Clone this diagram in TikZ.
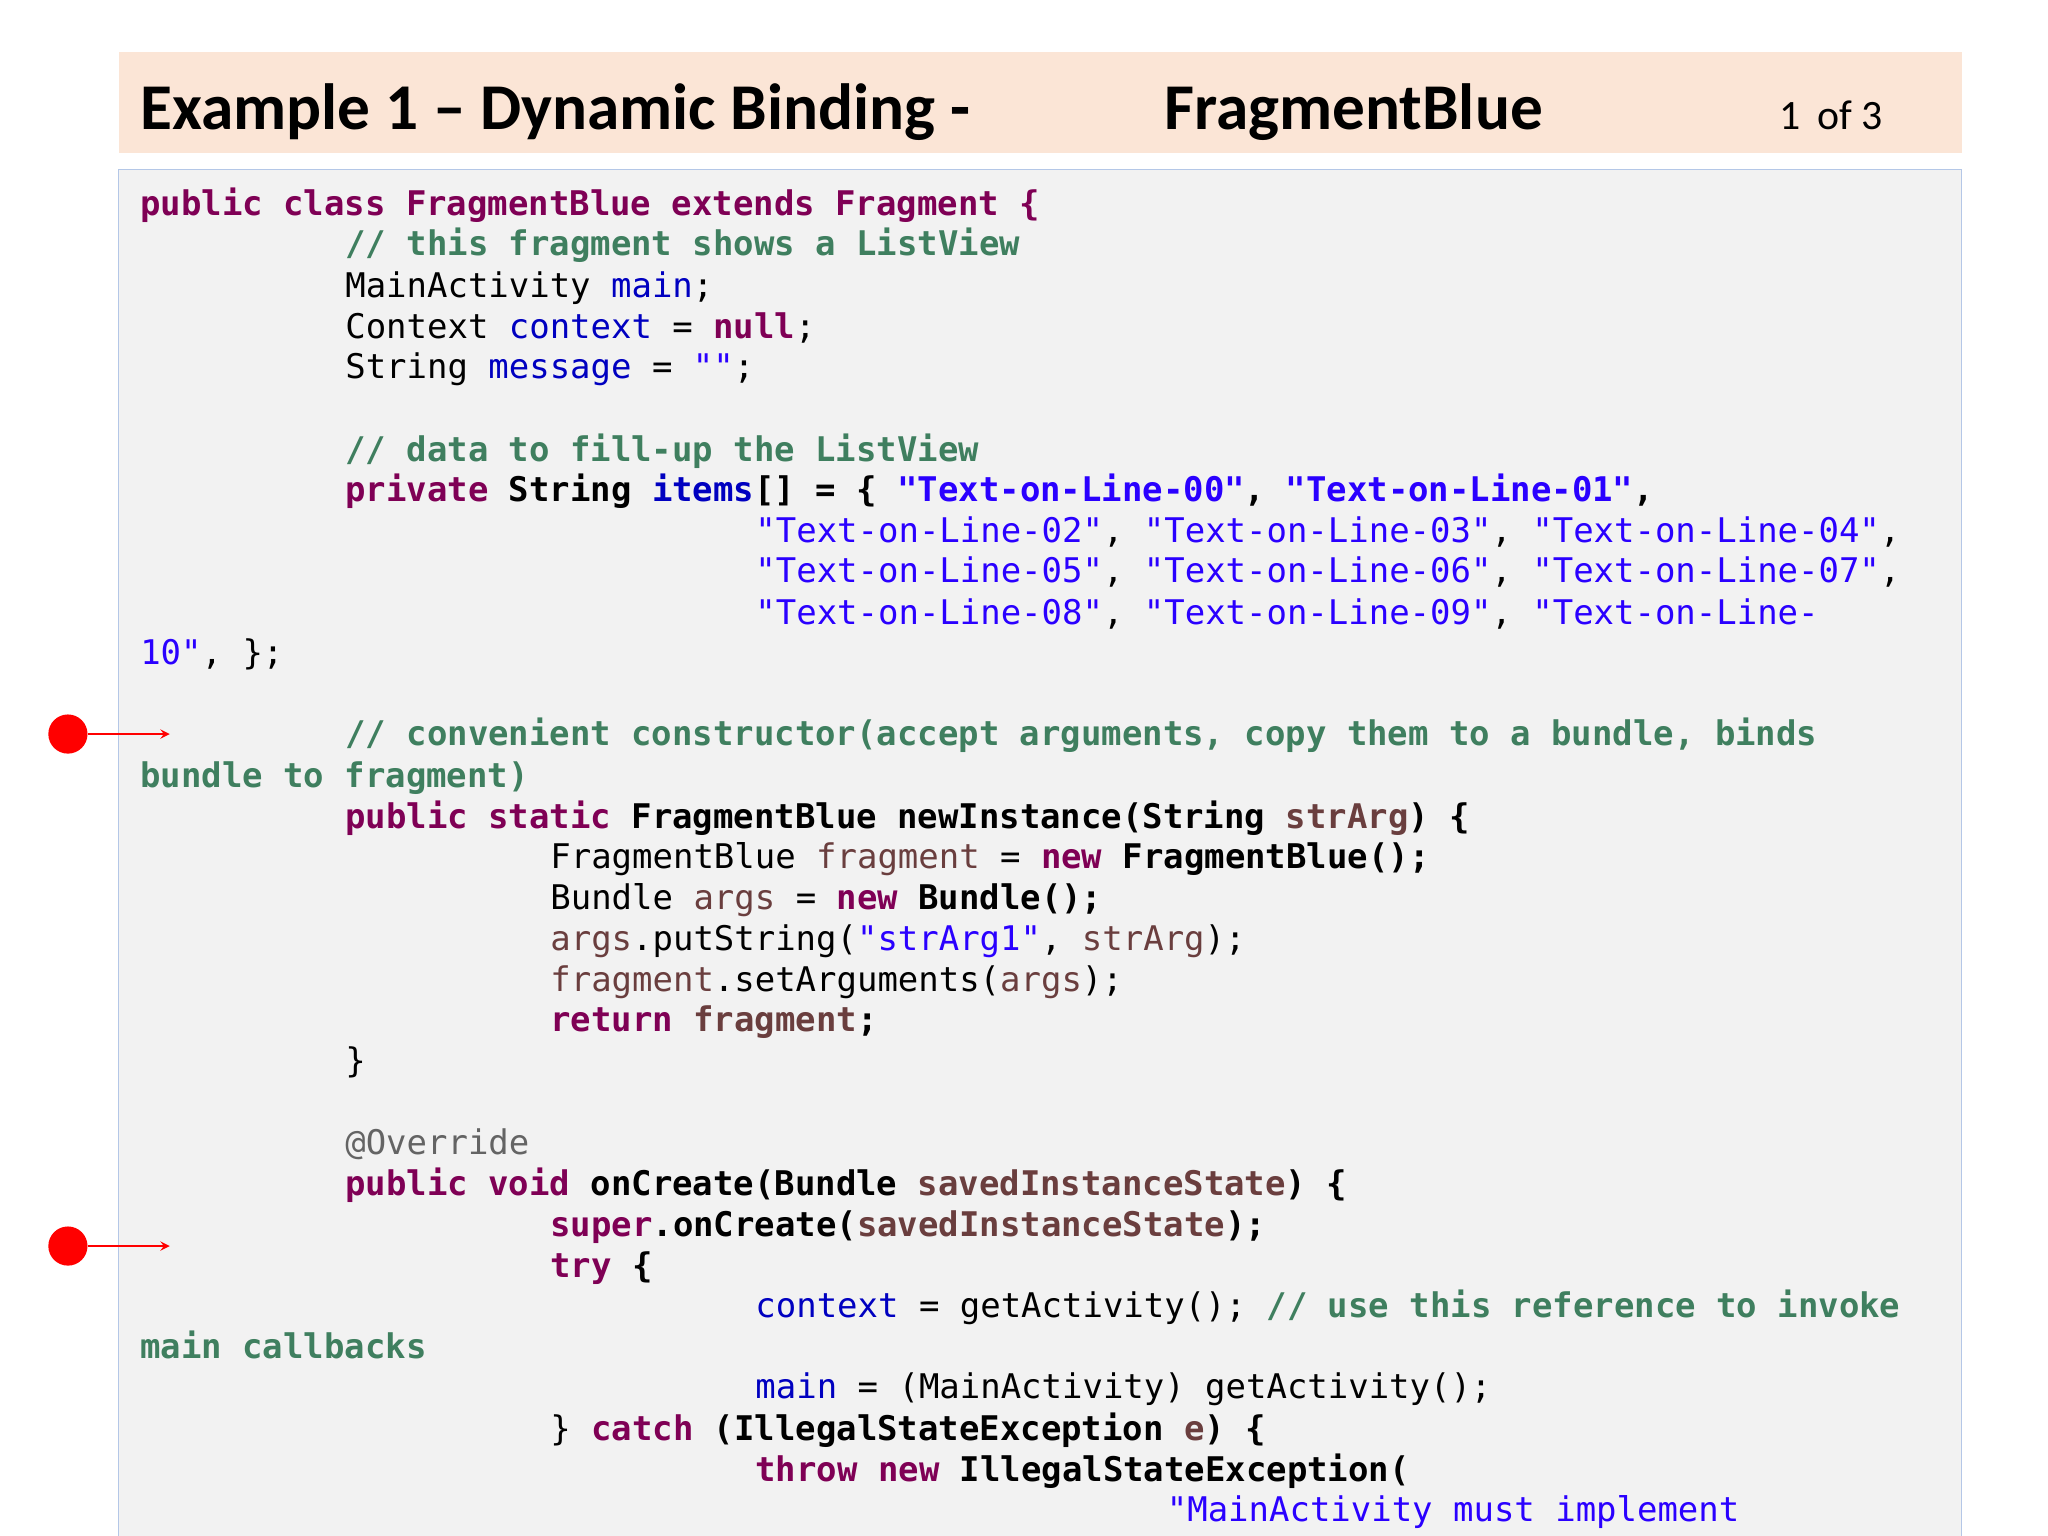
\documentclass[tikz,border=0pt]{standalone}
\usepackage{fontspec}
\setmonofont{DejaVu Sans Mono}
\newfontfamily\titlefont{Carlito}
\definecolor{kwc}{HTML}{7F0055}
\definecolor{cmc}{HTML}{3F7F5F}
\definecolor{fdc}{HTML}{0000C0}
\definecolor{stc}{HTML}{2A00FF}
\definecolor{lvc}{HTML}{6A3E3E}
\definecolor{anc}{HTML}{646464}
\definecolor{peach}{HTML}{FBE5D6}
\definecolor{codebg}{HTML}{F2F2F2}
\definecolor{codeframe}{HTML}{B4C7E7}
\newcommand{\kw}[1]{\textcolor{kwc}{\bfseries #1}}
\newcommand{\cm}[1]{\textcolor{cmc}{\bfseries #1}}
\newcommand{\fd}[1]{\textcolor{fdc}{#1}}
\newcommand{\st}[1]{\textcolor{stc}{#1}}
\newcommand{\lv}[1]{\textcolor{lvc}{#1}}
\newcommand{\an}[1]{\textcolor{anc}{#1}}
\begin{document}
\begin{tikzpicture}[x=0.5pt,y=-0.5pt,
  code/.style={anchor=base west,inner sep=0pt,font=\ttfamily\fontsize{13}{15}\selectfont},
  marker/.style={red,->,>=stealth,line width=0.6pt}]
\useasboundingbox (0,0) rectangle (1568,1176);
\fill[white] (0,0) rectangle (1568,1176);
\fill[peach] (91,40) rectangle (1502,117);
\filldraw[fill=codebg,draw=codeframe] (91,130) rectangle (1502,1190);
\node[anchor=base west,inner sep=0pt,font=\titlefont\bfseries\fontsize{25}{28}\selectfont] (t1) at (107,99) {Example 1 – Dynamic Binding -};
\node[anchor=base west,inner sep=0pt,font=\titlefont\bfseries\fontsize{25}{28}\selectfont] (t2) at (891,99) {FragmentBlue};
\node[anchor=base west,inner sep=0pt,font=\titlefont\fontsize{16}{18}\selectfont] (t3) at (1362,99) {1 \,of 3};
% code lines: x = 107 + 15.7*indent, baseline = y+10
\node[code] (l1) at (107,165) {\kw{public class FragmentBlue extends Fragment \{}};
\node[code] (l2) at (264,196) {\cm{// this fragment shows a ListView}};
\node[code] (l3) at (264,228) {MainActivity \fd{main};};
\node[code] (l4) at (264,259) {Context \fd{context} = \kw{null};};
\node[code] (l5) at (264,290) {String \fd{message} = \st{""};};
\node[code] (l6) at (264,353) {\cm{// data to fill-up the ListView}};
\node[code] (l7) at (264,384) {\bfseries\kw{private} String \fd{items}[] = \{ \st{"Text-on-Line-00"}, \st{"Text-on-Line-01"},};
\node[code] (l8) at (578,415) {\st{"Text-on-Line-02"}, \st{"Text-on-Line-03"}, \st{"Text-on-Line-04"},};
\node[code] (l9) at (578,446) {\st{"Text-on-Line-05"}, \st{"Text-on-Line-06"}, \st{"Text-on-Line-07"},};
\node[code] (l10) at (578,478) {\st{"Text-on-Line-08"}, \st{"Text-on-Line-09"}, \st{"Text-on-Line-}};
\node[code] (l11) at (107,509) {\st{10"}, \};};
\node[code] (l12) at (264,571) {\cm{// convenient constructor(accept arguments, copy them to a bundle, binds}};
\node[code] (l13) at (107,603) {\cm{bundle to fragment)}};
\node[code] (l14) at (264,634) {\bfseries\kw{public static} FragmentBlue newInstance(String \lv{strArg}) \{};
\node[code] (l15) at (421,665) {FragmentBlue \lv{fragment} = \kw{new} \textbf{FragmentBlue();}};
\node[code] (l16) at (421,696) {Bundle \lv{args} = \kw{new} \textbf{Bundle();}};
\node[code] (l17) at (421,728) {\lv{args}.putString(\st{"strArg1"}, \lv{strArg});};
\node[code] (l18) at (421,759) {\lv{fragment}.setArguments(\lv{args});};
\node[code] (l19) at (421,790) {\bfseries\kw{return} \lv{fragment};};
\node[code] (l20) at (264,821) {\}};
\node[code] (l21) at (264,884) {\an{@Override}};
\node[code] (l22) at (264,915) {\bfseries\kw{public void} onCreate(Bundle \lv{savedInstanceState}) \{};
\node[code] (l23) at (421,947) {\bfseries\kw{super}.onCreate(\lv{savedInstanceState});};
\node[code] (l24) at (421,978) {\bfseries\kw{try} \{};
\node[code] (l25) at (578,1009) {\fd{context} = getActivity(); \cm{// use this reference to invoke}};
\node[code] (l26) at (107,1040) {\cm{main callbacks}};
\node[code] (l27) at (578,1071) {\fd{main} = (MainActivity) getActivity();};
\node[code] (l28) at (421,1103) {\} \kw{catch} \textbf{(IllegalStateException \lv{e}) \{}};
\node[code] (l29) at (578,1134) {\bfseries\kw{throw new} IllegalStateException(};
\node[code] (l30) at (893,1165) {\st{"MainActivity must implement}};
% markers
\fill[red] (52,562) circle (15) node (d1) {};
\coordinate (e1) at (130,562);
\draw[marker] (d1.center) ++(15,0) -- (e1);
\fill[red] (52,954) circle (15) node (d2) {};
\coordinate (e2) at (130,954);
\draw[marker] (d2.center) ++(15,0) -- (e2);
\end{tikzpicture}
\end{document}
